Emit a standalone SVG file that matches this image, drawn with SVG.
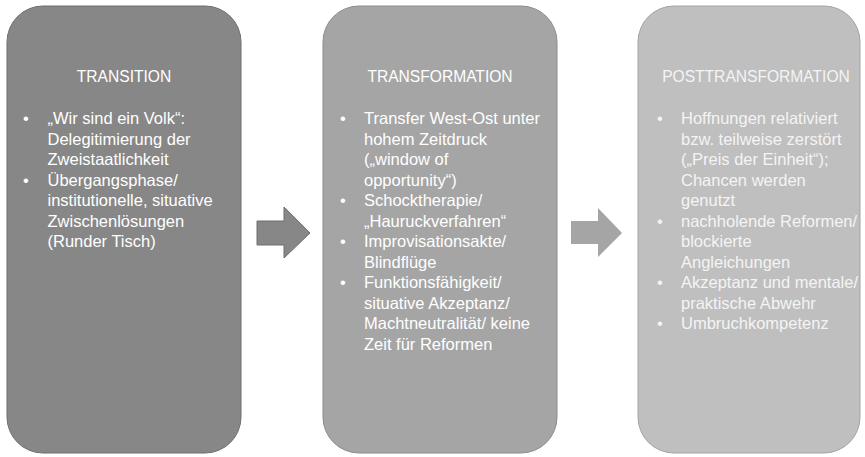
<svg xmlns="http://www.w3.org/2000/svg" width="865" height="457" viewBox="0 0 865 457">
<style>
text { font-family: "Liberation Sans", Arial, sans-serif; }
.title { font-size: 15.6px; text-anchor: middle; }
.body { font-size: 16.5px; }
.bul { font-size: 16.5px; text-anchor: middle; }
.t1 { fill: #ffffff; }
.t3 { fill: #f4f4f4; }
</style>
<rect x="0" y="0" width="865" height="457" fill="#ffffff"/>
<g id="node-transition">
  <rect x="7" y="6" width="234" height="447" rx="36" ry="36" fill="#878787" stroke="#6e6e6e" stroke-width="1"/>
  <text class="title t1" x="124" y="82">TRANSITION</text>
  <g class="t1">
    <text class="bul" x="26" y="124">•</text>
    <text class="body" x="47.5" y="124">„Wir sind ein Volk“:</text>
    <text class="body" x="47.5" y="144.5">Delegitimierung der</text>
    <text class="body" x="47.5" y="165">Zweistaatlichkeit</text>
    <text class="bul" x="26" y="185.5">•</text>
    <text class="body" x="47.5" y="185.5">Übergangsphase/</text>
    <text class="body" x="47.5" y="206">institutionelle, situative</text>
    <text class="body" x="47.5" y="226.5">Zwischenlösungen</text>
    <text class="body" x="47.5" y="247">(Runder Tisch)</text>
  </g>
</g>
<g id="node-transformation">
  <rect x="323" y="6" width="234" height="447" rx="36" ry="36" fill="#a5a5a5" stroke="#8c8c8c" stroke-width="1"/>
  <text class="title t1" x="440" y="82">TRANSFORMATION</text>
  <g class="t1">
    <text class="bul" x="343" y="124">•</text>
    <text class="body" x="364" y="124">Transfer West-Ost unter</text>
    <text class="body" x="364" y="144.5">hohem Zeitdruck</text>
    <text class="body" x="364" y="165">(„window of</text>
    <text class="body" x="364" y="185.5">opportunity“)</text>
    <text class="bul" x="343" y="206">•</text>
    <text class="body" x="364" y="206">Schocktherapie/</text>
    <text class="body" x="364" y="226.5">„Hauruckverfahren“</text>
    <text class="bul" x="343" y="247">•</text>
    <text class="body" x="364" y="247">Improvisationsakte/</text>
    <text class="body" x="364" y="267.5">Blindflüge</text>
    <text class="bul" x="343" y="288">•</text>
    <text class="body" x="364" y="288">Funktionsfähigkeit/</text>
    <text class="body" x="364" y="308.5">situative Akzeptanz/</text>
    <text class="body" x="364" y="329">Machtneutralität/ keine</text>
    <text class="body" x="364" y="349.5">Zeit für Reformen</text>
  </g>
</g>
<g id="node-posttransformation">
  <rect x="638" y="6" width="222" height="447" rx="36" ry="36" fill="#bfbfbf" stroke="#a3a3a3" stroke-width="1"/>
  <text class="title t3" x="756" y="82">POSTTRANSFORMATION</text>
  <g class="t3">
    <text class="bul" x="660" y="124">•</text>
    <text class="body" x="681" y="124">Hoffnungen relativiert</text>
    <text class="body" x="681" y="144.5">bzw. teilweise zerstört</text>
    <text class="body" x="681" y="165">(„Preis der Einheit“);</text>
    <text class="body" x="681" y="185.5">Chancen werden</text>
    <text class="body" x="681" y="206">genutzt</text>
    <text class="bul" x="660" y="226.5">•</text>
    <text class="body" x="681" y="226.5">nachholende Reformen/</text>
    <text class="body" x="681" y="247">blockierte</text>
    <text class="body" x="681" y="267.5">Angleichungen</text>
    <text class="bul" x="660" y="288">•</text>
    <text class="body" x="681" y="288">Akzeptanz und mentale/</text>
    <text class="body" x="681" y="308.5">praktische Abwehr</text>
    <text class="bul" x="660" y="329">•</text>
    <text class="body" x="681" y="329">Umbruchkompetenz</text>
  </g>
</g>
<g id="connectors">
  <polygon points="257,221 284,221 284,207 310,233 284,258 284,245 257,245" fill="#878787" stroke="#6e6e6e" stroke-width="1"/>
  <polygon points="571,221 598,221 598,208 622,233 598,257 598,244 571,244" fill="#a5a5a5"/>
</g>
</svg>
